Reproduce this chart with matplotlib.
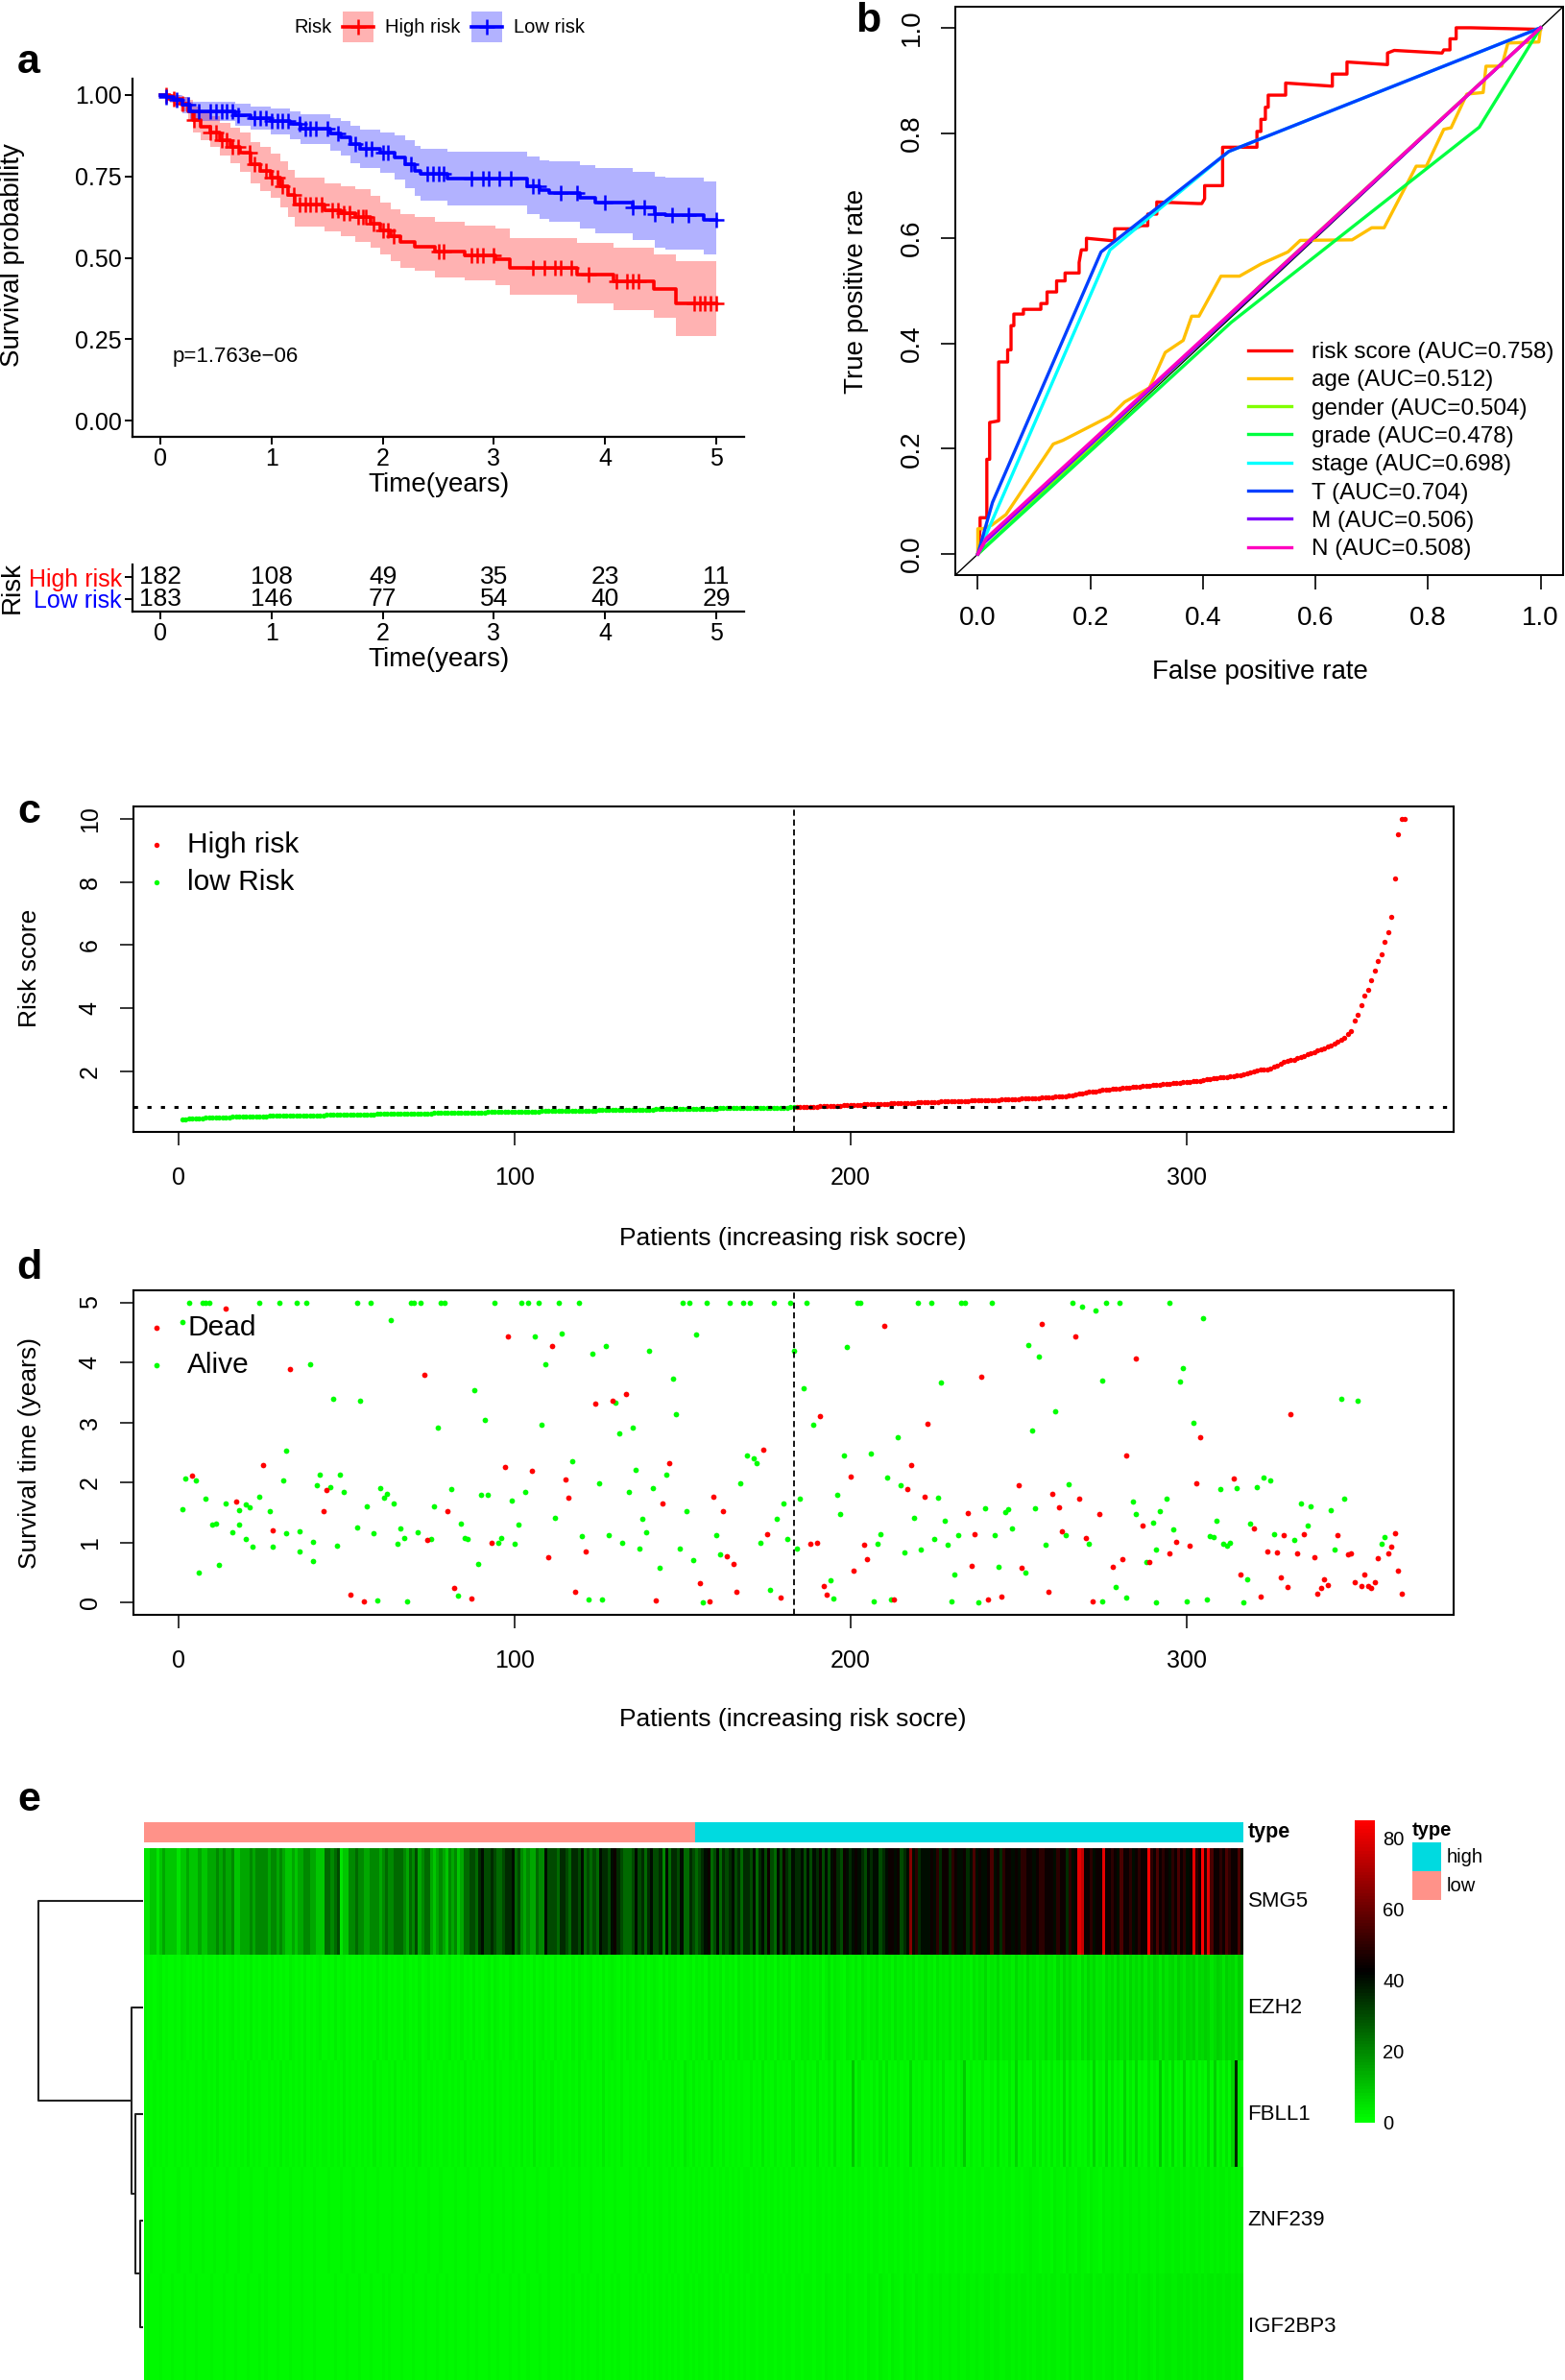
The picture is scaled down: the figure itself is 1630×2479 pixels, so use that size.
import numpy as np
import matplotlib
matplotlib.use("Agg")
import matplotlib.pyplot as plt
from matplotlib.colors import LinearSegmentedColormap, ListedColormap
from matplotlib.patches import Rectangle
from matplotlib.lines import Line2D

plt.rcParams['font.family'] = ['Liberation Sans', 'DejaVu Sans']

# ======================= DATA =======================
# ---- panel a : Kaplan-Meier (step curves, 95% CI) ----
km_end = 5.0
high_t = [0, 0.09, 0.18, 0.25, 0.29, 0.36, 0.45, 0.54, 0.63, 0.72, 0.81, 0.90, 0.99, 1.08, 1.15, 1.21,
          1.48, 1.62, 1.75, 1.89, 1.98, 2.07, 2.16, 2.29, 2.47, 2.74, 3.01, 3.14, 3.75, 4.08, 4.44, 4.64]
high_s = [1.0, 0.988, 0.974, 0.95, 0.923, 0.903, 0.885, 0.862, 0.842, 0.822, 0.788, 0.768, 0.747, 0.72, 0.693, 0.664,
          0.645, 0.637, 0.626, 0.605, 0.585, 0.565, 0.548, 0.535, 0.52, 0.507, 0.495, 0.468, 0.447, 0.427, 0.403, 0.36]
high_hi = [1.0, 1.0, 0.995, 0.985, 0.965, 0.95, 0.935, 0.915, 0.9, 0.885, 0.855, 0.84, 0.82, 0.795, 0.77, 0.745,
           0.73, 0.72, 0.71, 0.69, 0.67, 0.65, 0.635, 0.625, 0.61, 0.6, 0.59, 0.56, 0.545, 0.53, 0.51, 0.49]
high_lo = [1.0, 0.975, 0.95, 0.92, 0.885, 0.86, 0.84, 0.815, 0.79, 0.765, 0.73, 0.705, 0.685, 0.655, 0.625, 0.595,
           0.58, 0.565, 0.55, 0.53, 0.51, 0.49, 0.47, 0.46, 0.44, 0.43, 0.415, 0.385, 0.36, 0.34, 0.315, 0.26]
high_cens = [0.05, 0.12, 0.2, 0.3, 0.45, 0.5, 0.55, 0.6, 0.65, 0.7, 0.8, 0.85, 0.95, 1.0, 1.05, 1.1, 1.2, 1.25,
             1.3, 1.35, 1.4, 1.45, 1.55, 1.6, 1.65, 1.7, 1.78, 1.82, 1.85, 1.92, 2.0, 2.05, 2.1, 2.5, 2.55, 2.8,
             2.85, 2.9, 3.0, 3.35, 3.45, 3.55, 3.6, 3.7, 3.85, 4.1, 4.2, 4.25, 4.3, 4.8, 4.85, 4.9, 4.95, 5.0]
low_t = [0, 0.05, 0.12, 0.20, 0.27, 0.67, 0.81, 0.99, 1.17, 1.26, 1.53, 1.62, 1.71, 1.80, 1.98, 2.11, 2.20,
         2.29, 2.34, 2.58, 3.30, 3.41, 3.50, 3.77, 3.91, 4.25, 4.45, 4.54, 4.89]
low_s = [1.0, 0.995, 0.985, 0.97, 0.95, 0.939, 0.93, 0.92, 0.91, 0.896, 0.882, 0.869, 0.849, 0.835, 0.822, 0.808,
         0.788, 0.768, 0.757, 0.743, 0.72, 0.707, 0.70, 0.684, 0.669, 0.655, 0.635, 0.63, 0.616]
low_hi = [1.0, 1.0, 1.0, 0.995, 0.98, 0.972, 0.965, 0.958, 0.95, 0.94, 0.93, 0.92, 0.905, 0.895, 0.885, 0.875,
          0.86, 0.845, 0.835, 0.825, 0.81, 0.80, 0.795, 0.785, 0.775, 0.765, 0.75, 0.745, 0.735]
low_lo = [1.0, 0.985, 0.97, 0.945, 0.92, 0.905, 0.895, 0.88, 0.865, 0.85, 0.83, 0.815, 0.79, 0.775, 0.76, 0.74,
          0.715, 0.69, 0.675, 0.66, 0.635, 0.62, 0.61, 0.59, 0.575, 0.555, 0.53, 0.525, 0.51]
low_cens = [0.05, 0.15, 0.25, 0.35, 0.45, 0.5, 0.55, 0.6, 0.65, 0.7, 0.85, 0.9, 0.95, 1.0, 1.05, 1.1, 1.15,
            1.25, 1.3, 1.35, 1.4, 1.5, 1.6, 1.75, 1.85, 1.9, 2.0, 2.05, 2.25, 2.4, 2.45, 2.5, 2.55, 2.8, 2.9,
            2.95, 3.05, 3.15, 3.35, 3.4, 3.6, 3.75, 4.0, 4.25, 4.35, 4.45, 4.6, 4.75, 5.0]
pval_text = "p=1.763e\u221206"
table_times = [0, 1, 2, 3, 4, 5]
table_high = [182, 108, 49, 35, 23, 11]
table_low = [183, 146, 77, 54, 40, 29]

# ---- panel b : ROC curves ----
roc_names = ["risk score", "age", "gender", "grade", "stage", "T", "M", "N"]
roc_auc = [0.758, 0.512, 0.504, 0.478, 0.698, 0.704, 0.506, 0.508]
roc_colors = ['#FF0000', '#FFBF00', '#80FF00', '#00FF40', '#00FFFF', '#0040FF', '#8000FF', '#FF00BF']
fpr_risk = [0, 0.004, 0.004, 0.016, 0.016, 0.021, 0.021, 0.037, 0.037, 0.053,
            0.053, 0.059, 0.059, 0.064, 0.064, 0.081, 0.081, 0.112, 0.112, 0.123,
            0.123, 0.140, 0.140, 0.155, 0.155, 0.180, 0.180, 0.184, 0.193, 0.193,
            0.243, 0.243, 0.279, 0.290, 0.302, 0.302, 0.318, 0.318, 0.391, 0.398,
            0.403, 0.403, 0.435, 0.435, 0.496, 0.496, 0.503, 0.503, 0.511, 0.511,
            0.516, 0.516, 0.547, 0.547, 0.630, 0.630, 0.656, 0.656, 0.728, 0.728,
            0.740, 0.825, 0.828, 0.839, 0.839, 0.850, 0.850, 0.876, 1.0]
tpr_risk = [0, 0.048, 0.069, 0.069, 0.18, 0.18, 0.25, 0.253, 0.365, 0.365,
            0.388, 0.388, 0.434, 0.434, 0.456, 0.456, 0.465, 0.465, 0.476, 0.476,
            0.498, 0.498, 0.519, 0.519, 0.534, 0.534, 0.554, 0.578, 0.578, 0.60,
            0.595, 0.618, 0.618, 0.624, 0.624, 0.646, 0.646, 0.669, 0.666, 0.666,
            0.675, 0.70, 0.70, 0.773, 0.773, 0.803, 0.803, 0.826, 0.826, 0.849,
            0.849, 0.872, 0.872, 0.895, 0.889, 0.912, 0.912, 0.935, 0.930, 0.952,
            0.957, 0.952, 0.958, 0.958, 0.979, 0.979, 1.0, 1.0, 0.997]
fpr_age = [0, 0.0, 0.009, 0.025, 0.05, 0.134, 0.151, 0.235, 0.261, 0.305,
           0.333, 0.365, 0.38, 0.393, 0.432, 0.465, 0.503, 0.551, 0.573, 0.665,
           0.70, 0.722, 0.779, 0.797, 0.828, 0.841, 0.869, 0.898, 0.903, 0.931,
           0.942, 0.997, 1.0]
tpr_age = [0, 0.048, 0.048, 0.055, 0.075, 0.209, 0.216, 0.262, 0.289, 0.316,
           0.383, 0.406, 0.452, 0.452, 0.528, 0.528, 0.551, 0.574, 0.596, 0.597,
           0.62, 0.62, 0.737, 0.737, 0.807, 0.81, 0.874, 0.877, 0.927, 0.927,
           0.971, 0.973, 1.0]
fpr_gender = [0, 0.5, 1.0]
tpr_gender = [0, 0.508, 1.0]
fpr_grade = [0, 0.45, 0.891, 1.0]
tpr_grade = [0, 0.44, 0.811, 1.0]
fpr_stage = [0, 0.02, 0.235, 0.446, 1.0]
tpr_stage = [0, 0.05, 0.578, 0.765, 1.0]
fpr_T = [0, 0.026, 0.219, 0.446, 1.0]
tpr_T = [0, 0.098, 0.574, 0.765, 1.0]
fpr_M = [0, 0.012, 1.0]
tpr_M = [0, 0.022, 1.0]
fpr_N = [0, 0.015, 1.0]
tpr_N = [0, 0.03, 1.0]

# ---- panel c : sorted risk scores ----
risk_low = [0.47, 0.49, 0.50, 0.51, 0.51, 0.52, 0.52, 0.53, 0.53, 0.54,
            0.54, 0.54, 0.55, 0.55, 0.55, 0.56, 0.56, 0.56, 0.57, 0.57,
            0.57, 0.57, 0.58, 0.58, 0.58, 0.58, 0.59, 0.59, 0.59, 0.59,
            0.60, 0.60, 0.60, 0.60, 0.61, 0.61, 0.61, 0.61, 0.62, 0.62,
            0.62, 0.62, 0.62, 0.63, 0.63, 0.63, 0.63, 0.63, 0.64, 0.64,
            0.64, 0.64, 0.64, 0.65, 0.65, 0.65, 0.65, 0.65, 0.66, 0.66,
            0.66, 0.66, 0.66, 0.66, 0.67, 0.67, 0.67, 0.67, 0.67, 0.68,
            0.68, 0.68, 0.68, 0.68, 0.68, 0.69, 0.69, 0.69, 0.69, 0.69,
            0.70, 0.70, 0.70, 0.70, 0.70, 0.70, 0.71, 0.71, 0.71, 0.71,
            0.71, 0.72, 0.72, 0.72, 0.72, 0.72, 0.72, 0.73, 0.73, 0.73,
            0.73, 0.73, 0.74, 0.74, 0.74, 0.74, 0.74, 0.75, 0.75, 0.75,
            0.75, 0.75, 0.75, 0.76, 0.76, 0.76, 0.76, 0.76, 0.77, 0.77,
            0.77, 0.77, 0.77, 0.77, 0.78, 0.78, 0.78, 0.78, 0.78, 0.79,
            0.79, 0.79, 0.79, 0.79, 0.79, 0.80, 0.80, 0.80, 0.80, 0.80,
            0.80, 0.81, 0.81, 0.81, 0.81, 0.81, 0.81, 0.82, 0.82, 0.82,
            0.82, 0.82, 0.82, 0.82, 0.83, 0.83, 0.83, 0.83, 0.83, 0.83,
            0.84, 0.84, 0.84, 0.84, 0.84, 0.84, 0.84, 0.85, 0.85, 0.85,
            0.85, 0.85, 0.85, 0.85, 0.85, 0.86, 0.86, 0.86, 0.86, 0.86,
            0.86, 0.87, 0.87]
risk_high = [0.87, 0.88, 0.88, 0.88, 0.89, 0.89, 0.89,
             0.90, 0.90, 0.90, 0.91, 0.91, 0.92, 0.92, 0.93, 0.93, 0.94,
             0.94, 0.95, 0.95, 0.96, 0.96, 0.97, 0.97, 0.97, 0.98, 0.98,
             0.98, 0.99, 0.99, 0.99, 1.00, 1.00, 1.01, 1.01, 1.01, 1.02,
             1.02, 1.03, 1.03, 1.03, 1.04, 1.04, 1.05, 1.05, 1.05, 1.06,
             1.06, 1.06, 1.07, 1.07, 1.07, 1.08, 1.08, 1.08, 1.09, 1.09,
             1.09, 1.10, 1.10, 1.10, 1.11, 1.11, 1.12, 1.12, 1.13, 1.13,
             1.14, 1.14, 1.15, 1.15, 1.16, 1.16, 1.17, 1.17, 1.18, 1.19,
             1.20, 1.20, 1.21, 1.22, 1.23, 1.25, 1.27, 1.29, 1.31, 1.33,
             1.35, 1.37, 1.38, 1.40, 1.42, 1.43, 1.44, 1.45, 1.46, 1.47,
             1.48, 1.49, 1.50, 1.51, 1.52, 1.53, 1.54, 1.55, 1.56, 1.57,
             1.58, 1.59, 1.60, 1.61, 1.62, 1.63, 1.64, 1.65, 1.66, 1.67,
             1.68, 1.69, 1.70, 1.71, 1.73, 1.75, 1.77, 1.79, 1.80, 1.81,
             1.82, 1.83, 1.84, 1.86, 1.87, 1.89, 1.92, 1.95, 1.98, 2.01,
             2.03, 2.05, 2.06, 2.07, 2.10, 2.15, 2.20, 2.25, 2.30, 2.33,
             2.36, 2.38, 2.42, 2.46, 2.50, 2.54, 2.58, 2.62, 2.66, 2.70,
             2.74, 2.78, 2.83, 2.88, 2.94, 3.00, 3.08, 3.18, 3.28, 3.60,
             3.80, 4.10, 4.40, 4.60, 4.90, 5.20, 5.50, 5.70, 6.10, 6.40,
             6.90, 8.10, 9.50, 10.00, 10.01]
risk_cutoff = 0.87

# ---- panel d : survival status by patient ----
dead_patient = [14, 33, 73, 25, 4, 44, 17, 43, 80, 28, 74, 93, 82, 51, 87, 55,
                98, 111, 133, 129, 124, 191, 174, 146, 97, 105, 115, 200, 116, 159, 144, 162,
                175, 188, 190, 121, 163, 110, 165, 201, 155, 192, 118, 166, 193, 179, 142, 158,
                210, 257, 267, 285, 239, 223, 304, 282, 218, 217, 250, 303, 222, 260, 268, 262,
                235, 274, 287, 237, 263, 270, 297, 204, 301, 295, 205, 281, 289, 236, 278, 251,
                259, 245, 213, 241, 272,
                331, 314, 320, 329, 335, 345, 362, 324, 327, 333, 338, 348, 349, 361, 360, 357,
                316, 328, 330, 341, 340, 342, 339, 350, 353, 352, 354, 355, 356, 363, 364, 322]
dead_time = [4.90, 3.89, 3.79, 2.29, 2.11, 1.88, 1.68, 1.52, 1.53, 1.20, 1.04, 1.00, 0.25, 0.13, 0.07, 0.03,
             4.44, 4.27, 3.48, 3.36, 3.31, 3.11, 2.55, 2.32, 2.26, 2.19, 2.05, 2.10, 1.75, 1.76, 1.65, 1.52,
             1.14, 0.98, 1.00, 0.85, 0.77, 0.76, 0.64, 0.53, 0.32, 0.28, 0.18, 0.18, 0.14, 0.08, 0.04, 0.03,
             4.61, 4.64, 4.44, 4.07, 3.76, 2.98, 2.75, 2.46, 2.29, 1.90, 1.95, 1.99, 1.77, 1.81, 1.73, 1.59,
             1.50, 1.47, 1.29, 1.15, 1.19, 1.08, 1.02, 0.96, 0.95, 0.83, 0.72, 0.72, 0.68, 0.61, 0.60, 0.59,
             0.18, 0.10, 0.06, 0.05, 0.02,
             3.14, 2.07, 1.24, 1.13, 1.14, 1.13, 1.16, 0.86, 0.84, 0.82, 0.76, 0.81, 0.82, 0.94, 0.83, 0.75,
             0.47, 0.42, 0.27, 0.39, 0.24, 0.29, 0.15, 0.35, 0.47, 0.28, 0.28, 0.25, 0.35, 0.53, 0.15, 0.10]
alive_patient = [3, 7, 8, 9, 24, 30, 35, 38, 53, 57, 69, 70, 72, 78, 79, 94,
                 1, 63, 39, 88, 46, 54, 91, 77, 32, 42, 48, 2, 5, 31, 41, 45, 49, 60, 62, 61,
                 81, 90, 92, 8, 24, 14, 20, 18, 21, 64, 1, 27, 56, 76, 10, 11, 18, 84, 16, 32,
                 36, 53, 58, 66, 71, 20, 67, 75, 85, 86, 95, 40, 22, 28, 47, 65, 36, 40, 89, 12,
                 6, 83, 59, 68,
                 102, 104, 107, 113, 119, 150, 152, 157, 164, 168, 170, 177, 182, 187, 202,
                 106, 114, 154, 127, 123, 140, 183, 199, 109, 147, 186, 130, 148, 108, 135, 131,
                 189, 169, 171, 172, 198, 117, 136, 145, 125, 167, 141, 103, 134, 196, 185, 99,
                 180, 151, 197, 112, 138, 178, 101, 139, 120, 128, 160, 96, 100, 132, 181, 173,
                 137, 149, 184, 161, 153, 143, 194, 176, 195, 122, 126, 156,
                 203, 220, 224, 233, 234, 242, 266, 276, 280, 295,
                 269, 273, 305, 253, 256, 299, 227, 275, 298, 261, 302, 254, 214, 206, 211, 215,
                 265, 226, 284, 294, 240, 246, 247, 255, 285, 292, 219, 228, 290, 248, 296, 209,
                 232, 243, 264, 225, 208, 229, 258, 271, 291, 221, 216, 288, 244, 252, 231, 279,
                 282, 212, 207, 230, 238, 275, 291, 300,
                 346, 351, 310, 315, 321, 323, 325, 334, 337, 343, 347, 309, 319, 336, 307, 308,
                 326, 332, 311, 312, 313, 359, 358, 344, 318, 306, 317]
alive_time = [5.0, 5.0, 5.0, 5.0, 5.0, 5.0, 5.0, 5.0, 5.0, 5.0, 5.0, 5.0, 5.0, 5.0, 5.0, 5.0,
              4.68, 4.70, 3.97, 3.54, 3.40, 3.37, 3.05, 2.92, 2.53, 2.14, 2.14, 2.07, 2.03, 2.04, 1.96, 1.92,
              1.84, 1.91, 1.81, 1.75, 1.90, 1.79, 1.79, 1.73, 1.77, 1.66, 1.63, 1.54, 1.59, 1.66, 1.55, 1.52,
              1.60, 1.61, 1.30, 1.31, 1.30, 1.31, 1.18, 1.16, 1.19, 1.25, 1.16, 1.23, 1.17, 1.06, 1.08, 1.06,
              1.08, 1.07, 1.00, 1.02, 0.93, 0.93, 0.95, 0.99, 0.86, 0.69, 0.65, 0.63, 0.50, 0.12, 0.04, 0.03,
              5.0, 5.0, 5.0, 5.0, 5.0, 5.0, 5.0, 5.0, 5.0, 5.0, 5.0, 5.0, 5.0, 5.0, 5.0,
              4.43, 4.48, 4.47, 4.27, 4.15, 4.19, 4.19, 4.25, 3.97, 3.73, 3.57, 3.33, 3.14, 2.97, 2.92, 2.82,
              2.97, 2.46, 2.40, 2.32, 2.46, 2.35, 2.22, 2.13, 1.99, 1.99, 1.91, 1.84, 1.84, 1.80, 1.73, 1.70,
              1.65, 1.52, 1.47, 1.42, 1.39, 1.40, 1.30, 1.17, 1.11, 1.13, 1.12, 1.08, 0.98, 1.00, 1.07, 1.00,
              0.90, 0.90, 0.91, 0.80, 0.71, 0.58, 0.38, 0.22, 0.07, 0.06, 0.06, 0.00,
              5.0, 5.0, 5.0, 5.0, 5.0, 5.0, 5.0, 5.0, 5.0, 5.0,
              4.93, 4.86, 4.74, 4.29, 4.09, 3.90, 3.66, 3.70, 3.68, 3.19, 3.00, 2.87, 2.76, 2.48, 2.09, 1.96,
              1.98, 1.75, 1.68, 1.74, 1.57, 1.51, 1.55, 1.58, 1.47, 1.52, 1.42, 1.37, 1.33, 1.24, 1.22, 1.15,
              1.12, 1.12, 1.12, 1.06, 0.99, 0.97, 0.97, 0.98, 0.89, 0.88, 0.84, 0.68, 0.60, 0.50, 0.47, 0.26,
              0.08, 0.06, 0.02, 0.02, 0.01, 0.02, 0.01, 0.03,
              3.40, 3.37, 1.89, 1.91, 1.93, 2.08, 2.03, 1.65, 1.61, 1.54, 1.73, 1.37, 1.32, 1.28, 1.11, 1.10,
              1.14, 1.05, 0.98, 0.95, 1.00, 1.09, 0.99, 0.89, 0.39, 0.06, 0.01]

# ---- panel e : heatmap (one character per patient, base-36 level x unit) ----
genes = ["SMG5", "EZH2", "FBLL1", "ZNF239", "IGF2BP3"]
gene_unit = [5.0, 1.0, 1.0, 1.0, 1.0]
smg5_codes = ("11221232222122322232" "23334343342233343444" "43443432232334433222" "55456122445443344434"
              "54455543546345532343" "24342355665786676556" "77856434335448666577" "65776856565877689765"
              "55686757866748577685" "57656789568576786757" "76857869658697687786" "86879686897698789876"
              "87886789989678D8A788" "898A7997A988978B8988" "9B897A99898AA9989AA9" "998A997A89GF99A899G9"
              "9A98B99A89A99HA9B9A9" "8A9B9A89GA9HAGB99A9B" "A99B8")
ezh2_codes = ("21212312112132121213" "12213121231212131212" "21312121321213121231" "12131231212131221312"
              "31212132121312312121" "23121312131212313212" "13212312131231213121" "21313212312131232131"
              "32132131232131323121" "23132314232413231423" "32413242314232413243" "42324135243214324253"
              "24352434253424352435" "34253435243534253546" "35463545364536453546" "45364756453647564536"
              "56475647565746576475" "67586576857687568758" "67586")
fbll1_codes = ("12121212112121211212" "21213121212121312121" "12121312121213121212" "21212131212121213121"
               "12131212121312121212" "21212131212121213121" "12121312141212131212" "21213121212141212131"
               "12121213121212131214" "21312121412131212121" "13121412131212141213" "121412131512121A1412"
               "21314151213121612131" "14131512141391312141" "13151214171312151413" "14131615131214171316"
               "15131714161315131A14" "16131714151316181415" "17Z31")
znf239_codes = ("11211121111211121112" "11121112111211121111" "21112111211121112111" "12111211121112111211"
                "11211121112111211121" "11121112111211121112" "11211121112111211121" "21112111211121112111"
                "12112121121211212112" "12121212121212121212" "21212121212121212121" "12122121212212121221"
                "21221212212122121221" "12212212212212212212" "22122122122122322122" "21322132213221322132"
                "23223223223223223223" "32332323323233232332" "32323")
igf2bp3_codes = ("12111211121112111211" "11211121112111211121" "21112111211121112111" "11121112111211121112"
                 "12111211121112111211" "21121112112111211211" "12112112111211211121" "21211212112121121211"
                 "12121212121212121212" "21212212122121221212" "12212212212212212212" "22122132212213221221"
                 "32213221322132213221" "23223223223223223223" "32332233232332323323" "23323324233233423323"
                 "34233243342334324334" "43344343443434434434" "43434")
heat_codes = [smg5_codes, ezh2_codes, fbll1_codes, znf239_codes, igf2bp3_codes]
type_levels = ["low", "high"]
type_colors = ["#FF9289", "#00DAE0"]
# dendrogram linkage: (child a, child b, height); leaves 0..4 follow `genes`
dend_linkage = [(3, 4, 2.75), (2, 5, 7.3), (1, 6, 11.0), (0, 7, 100.0)]

# ======================= FIGURE =======================
W, H = 1630, 2479
fig = plt.figure(figsize=(W / 100, H / 100), dpi=100)


def axes_px(l, t, r, b):
    return fig.add_axes([l / W, 1 - b / H, (r - l) / W, (b - t) / H])


def ftext(x, y, s, **kw):
    return fig.text(x / W, 1 - y / H, s, **kw)


# ---------------- panel a ----------------
axA = axes_px(138, 82, 775, 455)
for t, s, lo, hi, col in [(high_t, high_s, high_lo, high_hi, '#FF0000'),
                          (low_t, low_s, low_lo, low_hi, '#0000FF')]:
    tt = np.r_[t, km_end]
    axA.fill_between(tt, np.r_[lo, lo[-1]], np.r_[hi, hi[-1]], step='post',
                     color=col, alpha=0.3, lw=0)
for t, s, cens, col in [(high_t, high_s, high_cens, '#FF0000'),
                        (low_t, low_s, low_cens, '#0000FF')]:
    tt = np.r_[t, km_end]
    ss = np.r_[s, s[-1]]
    axA.step(tt, ss, where='post', color=col, lw=2.6)
    idx = np.searchsorted(t, cens, side='right') - 1
    axA.plot(cens, np.asarray(s)[idx], ls='none', marker='+', ms=11, mew=1.8, color=col)
axA.set_xlim(-0.25, 5.25)
axA.set_ylim(-0.05, 1.05)
axA.set_xticks(table_times)
axA.set_yticks([0, 0.25, 0.5, 0.75, 1.0])
axA.set_yticklabels(['0.00', '0.25', '0.50', '0.75', '1.00'])
for sp in ['top', 'right']:
    axA.spines[sp].set_visible(False)
for sp in ['left', 'bottom']:
    axA.spines[sp].set_linewidth(1.6)
axA.tick_params(length=6, width=1.4, labelsize=18, pad=2, colors='black')
axA.text(0.11, 0.196, pval_text, fontsize=16, va='center', ha='left')
ftext(13, 266, 'Survival probability', rotation=90, ha='center', va='center', fontsize=20)
ftext(457, 505, 'Time(years)', ha='center', va='center', fontsize=20)

# risk table
axT = axes_px(138, 588, 775, 637)
axT.set_xlim(-0.25, 5.25)
axT.set_ylim(-0.61, 1.61)
for t, n in zip(table_times, table_high):
    axT.text(t, 1, str(n), ha='center', va='center', fontsize=19)
for t, n in zip(table_times, table_low):
    axT.text(t, 0, str(n), ha='center', va='center', fontsize=19)
axT.set_xticks(table_times)
axT.set_yticks([1, 0])
axT.set_yticklabels(['High risk', 'Low risk'])
for lab, c in zip(axT.get_yticklabels(), ['#FF0000', '#0000FF']):
    lab.set_color(c)
for sp in ['top', 'right']:
    axT.spines[sp].set_visible(False)
for sp in ['left', 'bottom']:
    axT.spines[sp].set_linewidth(1.6)
axT.tick_params(length=6, width=1.4, labelsize=18, pad=2)
ftext(13, 612, 'Risk', rotation=90, ha='center', va='center', fontsize=20)
ftext(457, 687, 'Time(years)', ha='center', va='center', fontsize=20)

# top legend of panel a
ftext(306, 28, 'Risk', fontsize=14.5, ha='left', va='center')
for x0, col, lab in [(357, '#FF0000', 'High risk'), (491, '#0000FF', 'Low risk')]:
    fig.add_artist(Rectangle((x0 / W, 1 - 44 / H), 32 / W, 32 / H, transform=fig.transFigure,
                             facecolor=col, alpha=0.3, edgecolor='none'))
    fig.add_artist(Line2D([x0 / W, (x0 + 32) / W], [1 - 28 / H] * 2, transform=fig.transFigure,
                          color=col, lw=2.6))
    fig.add_artist(Line2D([(x0 + 16) / W], [1 - 28 / H], transform=fig.transFigure, color=col,
                          marker='+', ms=11, mew=1.8))
    ftext(x0 + 44, 28, lab, fontsize=14.5, ha='left', va='center')

# ---------------- panel b ----------------
axB = axes_px(995, 7, 1628, 599)
axB.axline((0, 0), (1, 1), color='black', lw=1.0, zorder=1)
roc_fpr = [fpr_risk, fpr_age, fpr_gender, fpr_grade, fpr_stage, fpr_T, fpr_M, fpr_N]
roc_tpr = [tpr_risk, tpr_age, tpr_gender, tpr_grade, tpr_stage, tpr_T, tpr_M, tpr_N]
for name, auc, col, fx, fy in zip(roc_names, roc_auc, roc_colors, roc_fpr, roc_tpr):
    axB.plot(fx, fy, color=col, lw=2.4, label=f"{name} (AUC={auc:.3f})", zorder=2)
axB.set_xlim(-0.04, 1.04)
axB.set_ylim(-0.04, 1.04)
ticks = [0, 0.2, 0.4, 0.6, 0.8, 1.0]
axB.set_xticks(ticks)
axB.set_yticks(ticks)
axB.set_xticklabels([f"{v:.1f}" for v in ticks])
axB.set_yticklabels([f"{v:.1f}" for v in ticks], rotation=90, va='center')
for sp in axB.spines.values():
    sp.set_linewidth(1.4)
axB.tick_params(length=11, width=1.2, labelsize=20)
axB.tick_params(axis='x', pad=12)
axB.tick_params(axis='y', pad=12)
axB.legend(loc='upper left', bbox_to_anchor=(1300 / W, 1 - 356 / H), bbox_transform=fig.transFigure,
           frameon=False, fontsize=17.5, handlelength=1.85, handletextpad=0.85, labelspacing=0.3,
           borderpad=0, borderaxespad=0)
ftext(1312, 700, 'False positive rate', ha='center', va='center', fontsize=20)
ftext(892, 303, 'True positive rate', rotation=90, ha='center', va='center', fontsize=20)

# ---------------- panel c ----------------
n_low, n_high = len(risk_low), len(risk_high)
n_all = n_low + n_high
x_low = np.arange(1, n_low + 1)
x_high = np.arange(n_low + 1, n_all + 1)
xlim_cd = (1 - 0.04 * (n_all - 1), n_all + 0.04 * (n_all - 1))

axC = axes_px(139, 840, 1514, 1179)
sc_h = axC.scatter(x_high, risk_high, s=15, c='#FF0000', lw=0, label='High risk')
sc_l = axC.scatter(x_low, risk_low, s=15, c='#00FF00', lw=0, label='low Risk')
axC.axvline(n_low, color='black', ls=(0, (3.5, 2.2)), lw=1.3)
axC.axhline(risk_cutoff, color='black', ls=(0, (1.4, 3.2)), lw=2.2)
allv = risk_low + risk_high
rng = max(allv) - min(allv)
axC.set_xlim(*xlim_cd)
axC.set_ylim(min(allv) - 0.04 * rng, max(allv) + 0.04 * rng)
axC.set_xticks([0, 100, 200, 300])
axC.set_yticks([2, 4, 6, 8, 10])
axC.set_yticklabels(['2', '4', '6', '8', '10'], rotation=90, va='center')
axC.tick_params(length=10, width=1.1, labelsize=18)
axC.tick_params(axis='x', pad=16)
axC.tick_params(axis='y', pad=14)
for sp in axC.spines.values():
    sp.set_linewidth(1.5)
axC.legend(handles=[sc_h, sc_l], loc='upper left', bbox_to_anchor=(150 / W, 1 - 866 / H),
           bbox_transform=fig.transFigure, frameon=False, fontsize=21.5, handlelength=0.9,
           handletextpad=0.62, labelspacing=0.36, borderpad=0, borderaxespad=0, scatterpoints=1)
ftext(826, 1290, 'Patients (increasing risk socre)', ha='center', va='center', fontsize=19)
ftext(31, 1008, 'Risk score', rotation=90, ha='center', va='center', fontsize=19)

# ---------------- panel d ----------------
axD = axes_px(139, 1344, 1514, 1682)
sc_a = axD.scatter(alive_patient, alive_time, s=17, c='#00FF00', lw=0, label='Alive')
sc_d = axD.scatter(dead_patient, dead_time, s=17, c='#FF0000', lw=0, label='Dead')
axD.axvline(n_low, color='black', ls=(0, (3.5, 2.2)), lw=1.3)
axD.set_xlim(*xlim_cd)
axD.set_ylim(-0.2, 5.2)
axD.set_xticks([0, 100, 200, 300])
axD.set_yticks([0, 1, 2, 3, 4, 5])
axD.set_yticklabels(['0', '1', '2', '3', '4', '5'], rotation=90, va='center')
axD.tick_params(length=10, width=1.1, labelsize=18)
axD.tick_params(axis='x', pad=16)
axD.tick_params(axis='y', pad=14)
for sp in axD.spines.values():
    sp.set_linewidth(1.5)
axD.legend(handles=[sc_d, sc_a], loc='upper left', bbox_to_anchor=(150 / W, 1 - 1369 / H),
           bbox_transform=fig.transFigure, frameon=False, fontsize=21.5, handlelength=0.9,
           handletextpad=0.62, labelspacing=0.36, borderpad=0, borderaxespad=0, scatterpoints=1)
ftext(826, 1791, 'Patients (increasing risk socre)', ha='center', va='center', fontsize=19)
ftext(31, 1513, 'Survival time (years)', rotation=90, ha='center', va='center', fontsize=19)

# ---------------- panel e ----------------
for codes in heat_codes:
    assert len(codes) == n_all, len(codes)
heat = np.array([[int(ch, 36) * u for ch in codes] for codes, u in zip(heat_codes, gene_unit)])
cmap = LinearSegmentedColormap.from_list('gbr', ['#00FF00', '#000000', '#FF0000'], N=100)

axAnn = axes_px(150, 1898, 1295, 1919)
sample_type = np.array([[0] * n_low + [1] * n_high])
axAnn.imshow(sample_type, aspect='auto', cmap=ListedColormap(type_colors), vmin=0, vmax=1,
             interpolation='nearest')
axAnn.set_axis_off()
axAnn.text(1.004, 0.5, 'type', transform=axAnn.transAxes, ha='left', va='center',
           fontsize=15.5, fontweight='bold')

axH = axes_px(150, 1925, 1295, 2479)
im = axH.imshow(heat, aspect='auto', cmap=cmap, vmin=0, vmax=85, interpolation='nearest')
axH.set_axis_off()
for i, g in enumerate(genes):
    axH.text(1.004, i, g, transform=axH.get_yaxis_transform(), ha='left', va='center', fontsize=16)

cax = axes_px(1411, 1896, 1432, 2211)
cb = fig.colorbar(im, cax=cax, ticks=[0, 20, 40, 60, 80])
cb.outline.set_visible(False)
cax.tick_params(length=0, labelsize=14.5, pad=6)

ftext(1471, 1906, 'type', fontsize=14.5, fontweight='bold', ha='left', va='center')
for j, (lev, col) in enumerate([("high", type_colors[1]), ("low", type_colors[0])]):
    y0 = 1919 + j * 30
    fig.add_artist(Rectangle((1471 / W, 1 - (y0 + 30) / H), 30 / W, 30 / H,
                             transform=fig.transFigure, facecolor=col, edgecolor='none'))
    ftext(1507, y0 + 15, lev, fontsize=14.5, ha='left', va='center')

# dendrogram
axDen = axes_px(39.5, 1925, 148.6, 2479)
axDen.set_xlim(max(h for _, _, h in dend_linkage), 0)
axDen.set_ylim(len(genes), 0)
axDen.set_axis_off()
node_pos = {i: (i + 0.5, 0.0) for i in range(len(genes))}
for k, (a, b, h) in enumerate(dend_linkage):
    ya, ha_ = node_pos[a]
    yb, hb = node_pos[b]
    axDen.plot([ha_, h, h, hb], [ya, ya, yb, yb], color='#222222', lw=1.5, clip_on=False,
               solid_capstyle='butt')
    node_pos[len(genes) + k] = ((ya + yb) / 2, h)

# panel letters
for lab, x, y in [('a', 30, 76), ('b', 904, 33), ('c', 30, 857), ('d', 30, 1332), ('e', 30, 1886)]:
    ftext(x, y, lab, fontsize=31, fontweight='bold', ha='center', va='baseline')

fig.savefig('out.png', dpi=100)
